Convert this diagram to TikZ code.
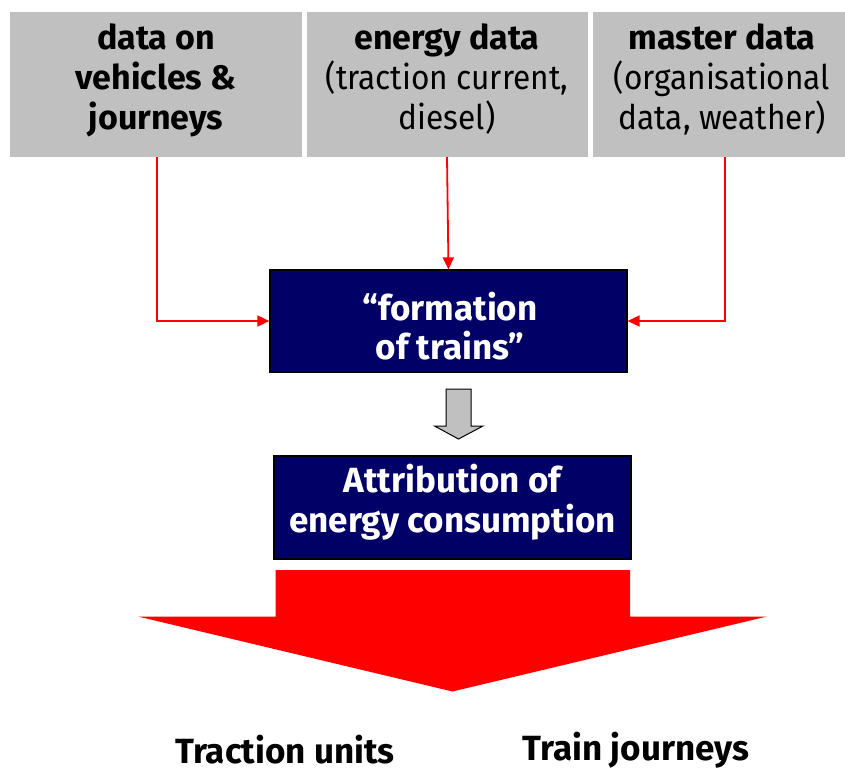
\documentclass[tikz,border=0pt]{standalone}
\usepackage{fontspec}
\setmainfont{Fira Sans}[UprightFeatures={FakeStretch=0.93}]
\usetikzlibrary{arrows.meta}
\definecolor{boxgray}{HTML}{C0C0C0}
\definecolor{navy}{HTML}{000066}
\definecolor{rred}{HTML}{FF0000}
\begin{document}
\begin{tikzpicture}[x=1pt,y=-1pt,
  src/.style={fill=boxgray,draw=none,align=center,font=\fontsize{34}{40}\selectfont},
  proc/.style={fill=navy,draw=black,line width=1.2pt,inner sep=0pt},
  proctext/.style={align=center,text=white,font=\bfseries\fontsize{35}{39.5}\selectfont},
  feed/.style={draw=rred,line width=1.8pt,-{Triangle[length=12pt,width=11pt]}},
  outlbl/.style={inner sep=0pt,font=\bfseries\fontsize{35}{40}\selectfont}]
\useasboundingbox (0,0) rectangle (845,771);
% source boxes
\fill[boxgray] (10,12) rectangle (302,157);
\fill[boxgray] (307,12) rectangle (588,157);
\fill[boxgray] (593,12) rectangle (845,157);
\node[src,font=\bfseries\fontsize{34}{40}\selectfont] (s1) at (156,80) {data on\\vehicles \&\\journeys};
\node[src] (s2) at (447,79) {\textbf{energy data}\\(traction current,\\diesel)};
\node[src] (s3) at (722,79) {\textbf{master data}\\(organisational\\data, weather)};
\coordinate (s1b) at (157,157);
\coordinate (s2b) at (447,157);
\coordinate (s3b) at (725,157);
% formation box
\node[proc,minimum width=357pt,minimum height=102pt] (form) at (448.5,321) {};
\node[proctext] (formtxt) at (450,326) {“formation\\of trains”};
\draw[feed] (s1b) |- (form.west);
\draw[feed] (s2b) -- (form.north);
\draw[feed] (s3b) |- (form.east);
% gray arrow
\draw[fill=boxgray,draw=black,line width=1pt] (446,389) -- (471,389) -- (471,426) -- (483,426) -- (458.5,439) -- (434.5,426) -- (446,426) -- cycle;
% attribution box
\node[proc,minimum width=357pt,minimum height=103pt] (attr) at (452.5,507.5) {};
\node[proctext] (attrtxt) at (452.5,502) {Attribution of\\energy consumption};
% big red arrow
\fill[rred] (275.5,570) -- (630,570) -- (630,616.5) -- (767,616.5) -- (452.5,691.5) -- (138,616.5) -- (275.5,616.5) -- cycle;
\node[outlbl] (tu) at (285,750) {Traction units};
\node[outlbl] (tj) at (636,750) {Train journeys};
\end{tikzpicture}
\end{document}
